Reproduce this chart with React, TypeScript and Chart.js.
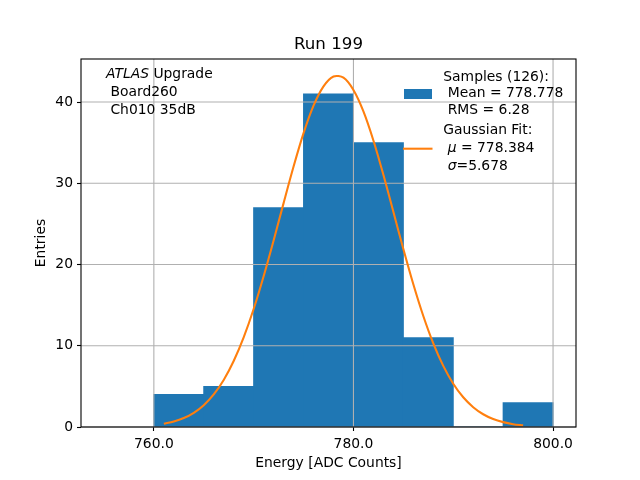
import React, { useEffect, useRef } from "react";
import { Chart, registerables } from "chart.js";

Chart.register(...registerables);

const binCenters = [762.5, 767.5, 772.5, 777.5, 782.5, 787.5, 792.5, 797.5];
const binCounts = [4, 5, 27, 41, 35, 11, 0, 3];
const fitX = [761, 762, 763, 764, 765, 766, 767, 768, 769, 770, 771, 772, 773, 774, 775, 776, 777, 778, 779, 780, 781, 782, 783, 784, 785, 786, 787, 788, 789, 790, 791, 792, 793, 794, 795, 796, 797];
const fitY = [0.40, 0.67, 1.10, 1.75, 2.69, 4.01, 5.79, 8.12, 11.03, 14.52, 18.55, 22.96, 27.56, 32.06, 36.17, 39.55, 41.93, 43.15, 43.0, 41.49, 38.85, 35.27, 31.04, 26.49, 21.91, 17.57, 13.66, 10.29, 7.52, 5.33, 3.66, 2.44, 1.57, 0.98, 0.60, 0.35, 0.20];
const xTicks = [760, 780, 800];
const yTicks = [0, 10, 20, 30, 40];
const titleText = "Run 199";
const xLabel = "Energy [ADC Counts]";
const yLabel = "Entries";
const sampleLegend = ["Samples (126):", " Mean = 778.778", " RMS = 6.28"];
const fitLegendTitle = "Gaussian Fit:";
const fitMu = "778.384";
const fitSigma = "5.678";
const infoLines = ["Upgrade", " Board260", " Ch010 35dB"];

const FONT = "DejaVu Sans";
const FS = 13.89;

const decorPlugin = {
  id: "decor",
  afterDatasetDraw(chart: any, args: any) {
    if (args.index !== 0) return;
    const { ctx, chartArea: a, scales } = chart;
    ctx.save();
    ctx.strokeStyle = "#b0b0b0";
    ctx.lineWidth = 1.1;
    for (const t of xTicks) {
      const px = scales.x.getPixelForValue(t);
      ctx.beginPath();
      ctx.moveTo(px, a.top);
      ctx.lineTo(px, a.bottom);
      ctx.stroke();
    }
    for (const t of yTicks) {
      const py = scales.y.getPixelForValue(t);
      ctx.beginPath();
      ctx.moveTo(a.left, py);
      ctx.lineTo(a.right, py);
      ctx.stroke();
    }
    ctx.restore();
  },
  afterDraw(chart: any) {
    const { ctx, chartArea: a } = chart;
    ctx.save();
    // frame
    ctx.strokeStyle = "#000";
    ctx.lineWidth = 1.1;
    ctx.strokeRect(a.left, a.top, a.right - a.left, a.bottom - a.top);

    ctx.fillStyle = "#000";
    ctx.textBaseline = "alphabetic";
    // title
    ctx.font = `16.67px "${FONT}"`;
    ctx.textAlign = "center";
    ctx.fillText(titleText, (a.left + a.right) / 2, 49.3);
    // x label
    ctx.font = `${FS}px "${FONT}"`;
    ctx.fillText(xLabel, (a.left + a.right) / 2, 467.3);
    // y label
    ctx.save();
    ctx.translate(45, (a.top + a.bottom) / 2);
    ctx.rotate(-Math.PI / 2);
    ctx.fillText(yLabel, 0, 0);
    ctx.restore();

    // info text top-left
    ctx.textAlign = "left";
    ctx.font = `italic ${FS}px "${FONT}"`;
    ctx.fillText("ATLAS", 106, 77.6);
    const w = ctx.measureText("ATLAS ").width;
    ctx.font = `${FS}px "${FONT}"`;
    ctx.fillText(infoLines[0], 106 + w, 77.6);
    ctx.fillText(infoLines[1], 106, 96);
    ctx.fillText(infoLines[2], 106, 114);

    // legend
    const lx = 443.3;
    ctx.fillStyle = "#000";
    ctx.fillText(sampleLegend[0], lx, 80.8);
    ctx.fillText(sampleLegend[1], lx, 97.4);
    ctx.fillText(sampleLegend[2], lx, 114.2);
    ctx.fillText(fitLegendTitle, lx, 134);
    const sp = ctx.measureText(" ").width;
    ctx.font = `italic ${FS}px "${FONT}"`;
    ctx.fillText("\u03bc", lx + sp, 152.3);
    let mw = ctx.measureText("\u03bc").width;
    ctx.font = `${FS}px "${FONT}"`;
    ctx.fillText(" = " + fitMu, lx + sp + mw, 152.3);
    ctx.font = `italic ${FS}px "${FONT}"`;
    ctx.fillText("\u03c3", lx + sp, 169.8);
    mw = ctx.measureText("\u03c3").width;
    ctx.font = `${FS}px "${FONT}"`;
    ctx.fillText("=" + fitSigma, lx + sp + mw, 169.8);

    // handles
    ctx.fillStyle = "#1f77b4";
    ctx.fillRect(404, 89, 28, 10);
    ctx.strokeStyle = "#ff7f0e";
    ctx.lineWidth = 2.08;
    ctx.beginPath();
    ctx.moveTo(403, 148.7);
    ctx.lineTo(432.5, 148.7);
    ctx.stroke();
    ctx.restore();
  },
};

export default function App() {
  const ref = useRef<HTMLCanvasElement | null>(null);
  useEffect(() => {
    document.body.style.margin = "0";
    const canvas = ref.current!;
    Chart.defaults.font.family = FONT;
    Chart.defaults.font.size = FS;
    Chart.defaults.color = "#000";
    const chart = new Chart(canvas, {
      type: "bar",
      data: {
        datasets: [
          {
            type: "bar",
            data: binCenters.map((x, i) => ({ x, y: binCounts[i] })),
            backgroundColor: "#1f77b4",
            borderWidth: 0,
            inflateAmount: 0.5,
            barPercentage: 1,
            categoryPercentage: 1,
            grouped: false,
            order: 2,
          } as any,
          {
            type: "line",
            data: fitX.map((x, i) => ({ x, y: fitY[i] })),
            borderColor: "#ff7f0e",
            borderWidth: 2.08,
            pointRadius: 0,
            tension: 0.3,
            fill: false,
            order: 1,
          } as any,
        ],
      },
      options: {
        responsive: false,
        animation: false,
        layout: { padding: { left: 0, right: 64, top: 59, bottom: 0 } },
        plugins: { legend: { display: false }, tooltip: { enabled: false } },
        scales: {
          x: {
            type: "linear",
            min: 752.7,
            max: 802.3,
            offset: false,
            afterFit(scale: any) {
              scale.height = 53;
            },
            afterBuildTicks(scale: any) {
              scale.ticks = xTicks.map((v) => ({ value: v }));
            },
            ticks: {
              callback: (v: any) => Number(v).toFixed(1),
              padding: 5,
              maxRotation: 0,
              autoSkip: false,
              color: "#000",
            },
            grid: {
              display: true,
              offset: false,
              drawOnChartArea: false,
              drawTicks: true,
              tickLength: 4,
              tickColor: "#000",
              tickWidth: 1.1,
            },
            border: { display: false },
          },
          y: {
            type: "linear",
            min: 0,
            max: 45.3,
            afterFit(scale: any) {
              scale.width = 81;
            },
            afterBuildTicks(scale: any) {
              scale.ticks = yTicks.map((v) => ({ value: v }));
            },
            ticks: { padding: 4, color: "#000", autoSkip: false },
            grid: {
              display: true,
              drawOnChartArea: false,
              drawTicks: true,
              tickLength: 4,
              tickColor: "#000",
              tickWidth: 1.1,
            },
            border: { display: false },
          },
        },
      } as any,
      plugins: [decorPlugin],
    });
    return () => chart.destroy();
  }, []);
  return (
    <div style={{ width: 640, height: 480 }}>
      <canvas ref={ref} width={640} height={480} style={{ display: "block" }} />
    </div>
  );
}
